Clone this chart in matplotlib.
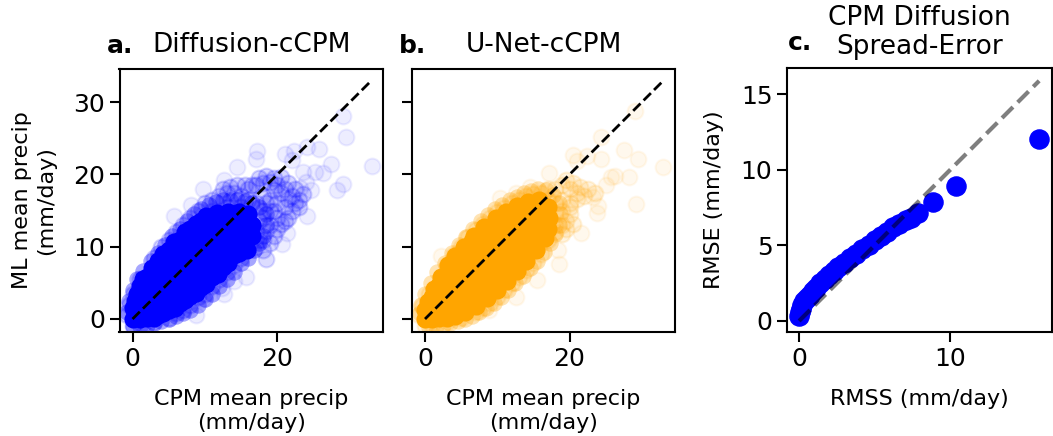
import matplotlib
matplotlib.use("Agg")
import matplotlib.pyplot as plt

# values; density tiers stand in for the overlapping cloud
diff_core_x = [0, 0, 1, 1, 1, 2, 2, 2, 2, 3.5, 3.5, 3.5, 3.5, 3.5, 3.5,
               5, 5, 5, 5, 5, 5, 6.5, 6.5, 6.5, 6.5, 6.5, 6.5, 6.5,
               8, 8, 8, 8, 8, 8, 8, 9.5, 9.5, 9.5, 9.5, 9.5, 9.5, 9.5,
               11, 11, 11, 11, 11, 11, 12.5, 12.5, 12.5, 12.5, 12.5,
               14, 14, 14, 14, 15.5, 15.5, 15.5,
               0.3, 1, 1.5, 2.7, 4.2, 5.7, 7.2, 8.7, 10.2, 11.7, 13.2, 14.7, 16, 16.5, 16.5, 15.8,
               3, 4.2, 5.8, 7.2, 8.8, 10.2, 11.8, 13.2, 14.7,
               0.7, 1.5, 2.7, 2.7, 1.4, 0.6]
diff_core_y = [0, 1.5, 0, 1.5, 3.5, 0.2, 1.8, 3.5, 5.8, 0.6, 2, 3.5, 5, 6.5, 8,
               1.2, 2.8, 4.4, 6, 7.6, 9.5, 2.2, 3.8, 5.4, 7, 8.6, 10.2, 11,
               3.2, 4.8, 6.4, 8, 9.6, 11.2, 12.5, 4.4, 6, 7.6, 9.2, 10.8, 12.4, 13.5,
               5.8, 7.4, 9, 10.6, 12.2, 13.5, 7.2, 8.8, 10.4, 12, 13.6,
               8.8, 10.4, 12, 13.6, 10.5, 12, 13.5,
               2.5, 4.5, 5.5, 7, 9, 10.7, 12, 13.2, 14.2, 14.7, 14.8, 14.8, 14.5, 13, 11.5, 9.5,
               0.2, 0.8, 1.5, 2.6, 3.6, 4.9, 6.2, 7.8, 9.2,
               2.7, 2.7, 2.7, 4.5, 3.9, 3.4]
diff_halo_x = [-0.7, -0.5, 0, 0.6, 1.5, 2.5, 3.5, 4.5, 5.5, 6.5, 7.5, 8.5, 9.5, 10.5, 11.5, 12.5, 13.5, 14.5,
               15.5, 16.5, 17.5, 18.5, 18.5, 18, 17.5, 16.8, 16, 15, 14, 13, 12, 11, 10, 9, 8, 7, 6, 5, 4, 3, 2, 1, 0]
diff_halo_y = [1, 2.5, 4, 5.5, 6.7, 8, 9.2, 10.3, 11.5, 12.5, 13.5, 14.5, 15.2, 15.8, 16.2, 16.4, 16.4, 16.4,
               16.3, 16, 15.5, 14.5, 13, 11.5, 10.5, 9.5, 8.5, 7.7, 6.5, 5.5, 4.5, 3.5, 2.7, 2, 1.3, 0.8, 0.4, 0, -0.3, -0.6, -0.8, -1, -1]
diff_mid_x = [16, 17, 18, 19, 20, 21, 22, 23, 18, 19, 20, 21, 22, 19, 20, 21, 18, 18, 19, 20,
              17, 16, 15, 14, 13, 12, 11, 10, 15, 13, 11, 9, 8, 7, 6, 5, 4, 3,
              17, 18, 19, 16, 17, 18, 15, 14, 13, 12, 11, 10, 9, 8, 7, 6, 5, 3, 1.5, 0, -0.8, -0.5, 0, 1,
              17.5, 18.5, 19.5, 20.5, 21.5, 22.5, 23.5, 16.5, 15.5, 14.5, 13.5, 12.5, 19.5, 20.5, 21.5, 22.5, 23,
              18.5, 19.5, 20.5, 21.5, 17.5, 18.5, 19.5, 16.5, 17.5]
diff_mid_y = [18, 18.5, 18.8, 19, 18.5, 18, 17, 16.5, 17, 16.5, 16, 15.5, 15, 15, 14, 13.5, 15, 14, 13, 12.5,
              16, 16.5, 17, 17.5, 17.5, 17, 16.5, 16, 15.5, 15.5, 15, 15, 14, 13, 12, 11, 10, 8.5,
              12, 11, 10.5, 11, 10, 9.5, 8.5, 7.5, 6.5, 5.5, 4.5, 3.5, 3, 2, 1.2, 0.8, 0.2, -0.4, -0.9, -1, 0.5, 2, 3.5, 5.5,
              19.5, 19.8, 19.5, 19.6, 18.8, 18, 17.3, 18.5, 18.6, 18.5, 18.2, 18, 17.8, 17.4, 16.6, 16, 15.5,
              16, 15, 13.2, 14, 13.5, 12.2, 11.5, 12.6, 11]
diff_out_x = [33.1, 29.5, 29.1, 27.4, 26.3, 25.2, 29.1, 28.3, 25.7, 24.1, 22.3, 21.1, 17.2, 17.1,
              14.5, 12.6, 9.7, 5.7, 8.1, 8.7, 12.6, 15.7, 18.4, 18.4, 20.6, 21.3, 24.1, 24.6,
              23.2, 24, 23.6, 22, 12.4, 14, 9.8]
diff_out_y = [21.2, 25.2, 28.1, 21.4, 20.2, 20.4, 18.7, 17.9, 23.5, 23.8, 23.3, 22.9, 23.2, 22.2,
              21, 19.2, 18, 14.2, 15.8, 0.6, 3.4, 5.8, 8.3, 8.3, 10.4, 11.9, 14.2, 17.9,
              18.1, 19, 20.4, 22, 4.3, 5.2, 2.7]

unet_core_x = [0, 0, 1, 1, 1, 2, 2, 2, 2, 3.5, 3.5, 3.5, 3.5, 3.5,
               5, 5, 5, 5, 5, 5, 6.5, 6.5, 6.5, 6.5, 6.5, 6.5, 6.5,
               8, 8, 8, 8, 8, 8, 8, 9.5, 9.5, 9.5, 9.5, 9.5, 9.5, 9.5,
               11, 11, 11, 11, 11, 11, 12.5, 12.5, 12.5, 12.5, 12.5, 12.5,
               14, 14, 14, 14, 14, 15.5, 15.5, 15.5, 15.5,
               0.4, 1.2, 2.2, 3.2, 4.2, 5.4, 6.8, 8.2, 9.8, 11.2, 12.8, 14.2, 15.8, 17, 17.2, 17, 16.6,
               15.4, 14, 12.8, 11.4, 10, 8.6, 7, 5.6, 4.2, 3]
unet_core_y = [0, 1.2, 0, 1.5, 3, 0.2, 1.7, 3.2, 4.7, 0.7, 2.2, 3.7, 5.2, 6.7,
               1.3, 2.8, 4.3, 5.8, 7.3, 8.8, 2.3, 3.8, 5.3, 6.8, 8.3, 9.8, 10.8,
               3.4, 4.9, 6.4, 7.9, 9.4, 10.9, 12, 4.6, 6.1, 7.6, 9.1, 10.6, 12, 13,
               6, 7.5, 9, 10.5, 12, 13.5, 7.4, 8.9, 10.4, 11.9, 13.4, 14.5,
               9, 10.5, 12, 13.5, 15, 11, 12.5, 14, 15.5,
               2.4, 4.2, 5.8, 7.5, 8.7, 10, 11.5, 12.8, 14, 14.8, 15.6, 16.2, 16.5, 15.5, 14, 12.5, 11.2,
               9.6, 8, 6.6, 5.2, 4, 2.9, 1.8, 0.9, 0.4, 0.1]
unet_halo_x = [-0.7, -0.5, 0, 0.8, 1.7, 2.7, 3.7, 4.7, 5.7, 6.7, 7.7, 8.7, 9.7, 10.7, 11.7, 12.7, 13.7, 14.7,
               15.7, 16.7, 17.7, 18.5, 18.7, 18.5, 18, 17.3, 16.5, 15.5, 14.5, 13.5, 12.5, 11.5, 10.5, 9.5, 8.5,
               7.5, 6.5, 5.5, 4.5, 3.5, 2.5, 1.5, 0.5]
unet_halo_y = [0.8, 2, 3.5, 5, 6.5, 7.8, 9.2, 10.3, 11.4, 12.5, 13.5, 14.4, 15.2, 15.8, 16.4, 16.9, 17.4, 17.7,
               18, 17.8, 17.2, 16, 14.5, 13, 11.8, 10.5, 9.3, 8, 7, 6, 5, 4, 3, 2.2, 1.5,
               0.9, 0.4, 0, -0.3, -0.6, -0.8, -1, -1.1]
unet_mid_x = [17, 18, 19, 20, 21, 17, 18, 19, 20, 17, 18, 19, 20, 18, 19, 17, 18, 16, 15, 14, 13,
              12, 11, 10, 9, 8, 7, 6, 5, 4, 3, 16, 17, 16, 15, 14, 13, 12, 11, 10, 9, 8, 7, 5, 3, 1, 0, -0.8, -0.4, 0.5,
              19.5, 20.5, 21.5, 22.5, 23.5, 20, 21, 22, 19.5, 20.5, 19, 19.5]
unet_mid_y = [18, 18, 18.5, 18, 17.5, 16.5, 16, 16.5, 16, 15, 14.5, 15, 14.5, 13, 13, 13, 12, 17.5, 17.3, 17, 16.5,
              16, 15.3, 14.8, 14, 13.2, 12.3, 11.3, 10, 8.8, 7.5, 10.5, 11, 9, 7.8, 6.8, 5.8, 5, 4, 3, 2.2, 1.5, 1, 0.2, -0.4, -0.8, -1, 0.5, 1.8, 3.5,
              19.2, 18.8, 18.3, 18, 17.5, 15.5, 16.6, 17, 13.5, 13.2, 11.8, 12.5]
unet_out_x = [33, 29.5, 27.5, 29.1, 29.2, 28.3, 26.3, 24.3, 24.3, 22.4, 20.5, 21, 17.1, 14.6, 12.6, 10.4,
              2.2, 5.7, 8.9, 12.6, 15.5, 18.5, 18.4, 21.6, 23.8, 24, 23.3, 25, 25.7]
unet_out_y = [21.1, 22.2, 23.4, 28.8, 15.9, 19.7, 19.8, 25.2, 22.1, 22.5, 22.7, 21.8, 20.2, 18.3, 17.4, 16.8,
              8.7, 11.2, 1.3, 3, 5.4, 7.6, 9.5, 11.9, 14.7, 15.6, 16.9, 18.6, 19.7]

rmss = [0, 0.05, 0.1, 0.2, 0.35, 0.5, 0.7, 0.9, 1.1, 1.4, 1.7, 2, 2.3, 2.6, 3, 3.4, 3.8, 4.2,
        4.6, 5, 5.4, 5.8, 6.2, 6.6, 7.1, 7.4, 7.9, 8.85, 10.4, 15.9]
rmse = [0.35, 0.6, 0.8, 1.05, 1.3, 1.5, 1.75, 2, 2.2, 2.5, 2.8, 3.05, 3.3, 3.55, 3.85, 4.15, 4.45, 4.75,
        5.05, 5.35, 5.65, 5.9, 6.2, 6.45, 6.7, 6.8, 7.17, 7.9, 8.95, 12.03]

LABEL_FS = 16
TITLE_FS = 19
W, H = 1053, 436
plt.rcParams["font.size"] = 18
plt.rcParams["axes.linewidth"] = 1.5
plt.rcParams["xtick.major.width"] = 1.5
plt.rcParams["ytick.major.width"] = 1.5
plt.rcParams["xtick.major.size"] = 7
plt.rcParams["ytick.major.size"] = 7


def scatter_panel(ax, core, halo, mid, out, color, halo_alpha, mid_alpha, out_alpha):
    ax.scatter(*out, s=130, color=color, alpha=out_alpha, linewidths=1.5, zorder=2)
    ax.scatter(*mid, s=130, color=color, alpha=mid_alpha, linewidths=1.5, zorder=2)
    ax.scatter(*halo, s=140, color=color, alpha=halo_alpha, linewidths=0, zorder=2)
    ax.scatter(*core, s=170, color=color, alpha=1, linewidths=0, zorder=2)
    ax.plot([0, 32.7], [0, 32.7], "k--", lw=2, zorder=3)
    ax.set_xlim(-1.8, 34.6)
    ax.set_ylim(-1.8, 34.6)
    ax.set_xticks([0, 20])
    ax.set_yticks([0, 10, 20, 30])
    ax.set_xlabel("CPM mean precip\n(mm/day)", fontsize=LABEL_FS, labelpad=13, linespacing=1.3)


fig = plt.figure(figsize=(W / 100, H / 100), dpi=100)


def pixel_axes(left, right, top, bottom):
    return fig.add_axes([left / W, 1 - bottom / H, (right - left) / W, (bottom - top) / H])


ax_a = pixel_axes(119.5, 383, 69, 332)
ax_b = pixel_axes(412, 675, 69, 332)
ax_c = pixel_axes(787, 1052, 68, 332)

scatter_panel(ax_a, (diff_core_x, diff_core_y), (diff_halo_x, diff_halo_y), (diff_mid_x, diff_mid_y),
              (diff_out_x, diff_out_y), "blue", 0.35, 0.16, 0.07)
ax_a.set_ylabel("ML mean precip\n(mm/day)", fontsize=LABEL_FS, labelpad=12, linespacing=1.3)
ax_a.set_title("Diffusion-cCPM", fontsize=TITLE_FS, pad=12)

scatter_panel(ax_b, (unet_core_x, unet_core_y), (unet_halo_x, unet_halo_y), (unet_mid_x, unet_mid_y),
              (unet_out_x, unet_out_y), "orange", 0.3, 0.13, 0.07)
ax_b.set_yticklabels([])
ax_b.set_title("U-Net-cCPM", fontsize=TITLE_FS, pad=12)

ax_c.scatter(rmss, rmse, s=190, color="blue", linewidths=1, zorder=2)
ax_c.plot([0, 15.9], [0, 15.9], "k--", lw=3, alpha=0.5, zorder=3)
ax_c.set_xlim(-0.8, 16.75)
ax_c.set_ylim(-0.73, 16.75)
ax_c.set_xticks([0, 10])
ax_c.set_yticks([0, 5, 10, 15])
ax_c.set_xlabel("RMSS (mm/day)", fontsize=LABEL_FS, labelpad=13)
ax_c.set_ylabel("RMSE (mm/day)", fontsize=LABEL_FS, labelpad=12)
ax_c.set_title("CPM Diffusion\nSpread-Error", fontsize=TITLE_FS, pad=10, linespacing=1.15)

fig.text(107 / W, 1 - 53 / H, "a.", fontsize=18, fontweight="bold")
fig.text(399 / W, 1 - 53 / H, "b.", fontsize=18, fontweight="bold")
fig.text(788 / W, 1 - 50 / H, "c.", fontsize=18, fontweight="bold")

fig.savefig("out.png", dpi=100)
